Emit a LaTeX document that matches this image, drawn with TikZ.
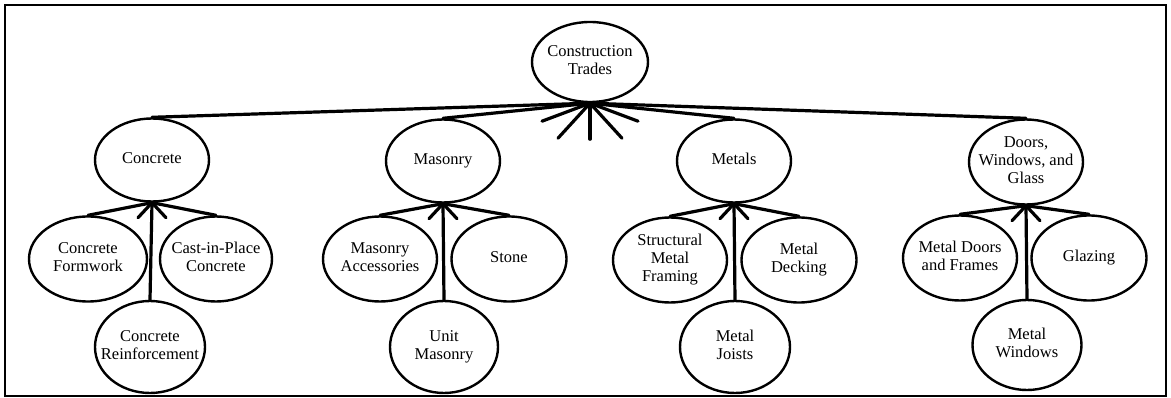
\documentclass[tikz,border=0pt]{standalone}
\usepackage{fontspec}
\setmainfont{Liberation Serif}
\usetikzlibrary{shapes.geometric}
% centred lines in a zero-width box, so the ellipse keeps its set size
\newcommand\lbl[1]{\makebox[0pt]{\begin{tabular}{@{}c@{}}#1\end{tabular}}}
\begin{document}
\begin{tikzpicture}[x=1pt,y=-1pt,
  trade/.style={ellipse, draw, line width=2.4pt, inner sep=0pt,
    font=\fontsize{16.5}{18}\selectfont},
  mid/.style={trade, minimum width=114pt, minimum height=83pt},
  side/.style={trade, minimum width=115pt, minimum height=85pt},
  low/.style={trade, minimum width=110pt, minimum height=92pt},
  link/.style={line width=3.2pt, line cap=round},
  stub/.style={line width=3.2pt, line cap=round}]
\useasboundingbox (0,0) rectangle (1171,398);
\draw[line width=1.5pt] (5,5) rectangle (1166,396);

% root
\node[trade, minimum width=116pt, minimum height=80pt] (root) at (590,62) {\lbl{Construction\\Trades}};

% second level
\node[mid] (conc) at (152,160) {\lbl{Concrete}};
\node[mid] (mas) at (443,161) {\lbl{Masonry}};
\node[mid] (met) at (734,161) {\lbl{Metals}};
\node[mid, minimum height=85pt] (dwg) at (1026,162) {\lbl{Doors,\\Windows, and\\Glass}};

% third level
\node[side, minimum width=118pt] (form) at (88,259) {\lbl{Concrete\\Formwork}};
\node[side, minimum width=112pt] (cip) at (216,259) {\lbl{Cast-in-Place\\Concrete}};
\node[low] (reinf) at (150,347) {\lbl{Concrete\\Reinforcement}};

\node[side, minimum width=114pt] (acc) at (380,259) {\lbl{Masonry\\Accessories}};
\node[side] (stone) at (509,259) {\lbl{Stone}};
\node[low, minimum width=108pt] (unit) at (444,347) {\lbl{Unit\\Masonry}};

\node[side, minimum width=114pt] (frame) at (670,260) {\lbl{Structural\\Metal\\Framing}};
\node[side] (deck) at (799,260) {\lbl{Metal\\Decking}};
\node[low] (joist) at (735,347) {\lbl{Metal\\Joists}};

\node[side, minimum width=114pt] (mdf) at (960,258) {\lbl{Metal Doors\\and Frames}};
\node[side] (glaz) at (1089,258) {\lbl{Glazing}};
\node[low, minimum width=109pt, minimum height=90pt] (mwin) at (1027,345) {\lbl{Metal\\Windows}};

% root connectors and crow's foot
\foreach \c in {conc,mas,met,dwg} \draw[link] (root.south) -- (\c.north);
\foreach \d in {(-48,18),(-32,35),(0,36),(32,35),(48,18)}
  \draw[stub] (root.south) -- ++\d;

% group connectors
\foreach \p/\a/\b/\c in {conc/form/cip/reinf, mas/acc/stone/unit,
                         met/frame/deck/joist, dwg/mdf/glaz/mwin}{
  \draw[link] (\p.south) -- (\a.north);
  \draw[link] (\p.south) -- (\b.north);
  \draw[link] (\p.south) -- (\c.north);
  \draw[stub] (\p.south) -- ++(-14,15);
  \draw[stub] (\p.south) -- ++(14,15);
}
\end{tikzpicture}
\end{document}
